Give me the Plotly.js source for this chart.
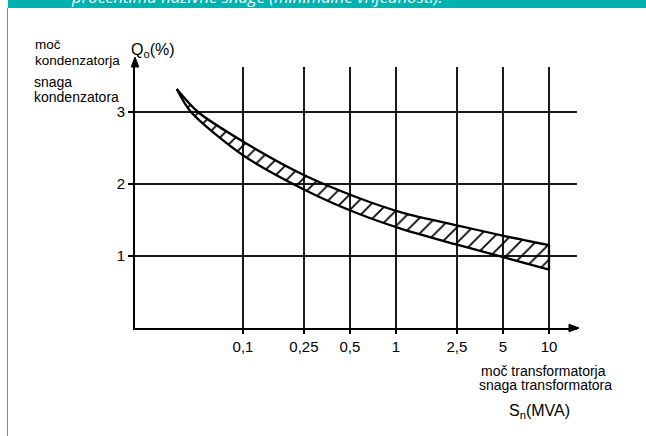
<!DOCTYPE html>
<html>
<head>
<meta charset="utf-8">
<script src="https://cdn.plot.ly/plotly-3.0.1.min.js"></script>
<style>
html,body{margin:0;padding:0;background:#fff;}
#chart{width:646px;height:436px;}
</style>
</head>
<body>
<div id="chart"></div>
<script>
// ---- data ----
const tickValues = [0.1, 0.25, 0.5, 1, 2.5, 5, 10];
const tickLabels = ["0,1", "0,25", "0,5", "1", "2,5", "5", "10"];
const yTickValues = [1, 2, 3];
const yTickLabels = ["1", "2", "3"];

// lower edge of the band (S_n in MVA, Q_o in %)
const lowerX = [0.0369, 0.0457, 0.1, 0.258, 0.548, 1.11, 2.58, 5.31, 10];
const lowerY = [3.32, 3.00, 2.40, 1.91, 1.60, 1.37, 1.15, 0.97, 0.81];
// upper edge of the band
const upperX = [0.0369, 0.0508, 0.1, 0.258, 0.548, 1.11, 2.58, 5.31, 10];
const upperY = [3.32, 3.00, 2.59, 2.11, 1.82, 1.60, 1.42, 1.27, 1.15];

const bannerText = "procentima nazivne snage (minimalne vrijednosti):";

// ---- layout helpers (pixel -> paper) ----
const W = 646, H = 436;
const L = 135, R = 577, T = 67, B = 328;
const px = p => (p - L) / (R - L);
const py = p => (B - p) / (B - T);

const FONT = "Liberation Sans, Arial, sans-serif";

const traces = [
  {
    x: lowerX, y: lowerY, type: "scatter", mode: "lines",
    line: {color: "#000", width: 2.3, shape: "spline", smoothing: 0.8},
    hoverinfo: "skip", showlegend: false
  },
  {
    x: upperX, y: upperY, type: "scatter", mode: "lines",
    line: {color: "#000", width: 2.3, shape: "spline", smoothing: 0.8},
    fill: "tonexty", fillcolor: "rgba(0,0,0,0)",
    fillpattern: {shape: "/", size: 11, solidity: 0.16, fgcolor: "#000", bgcolor: "rgba(0,0,0,0)"},
    hoverinfo: "skip", showlegend: false
  },
  {
    x: [lowerX[lowerX.length - 1], upperX[upperX.length - 1]],
    y: [lowerY[lowerY.length - 1], upperY[upperY.length - 1]],
    type: "scatter", mode: "lines",
    line: {color: "#000", width: 2.3},
    hoverinfo: "skip", showlegend: false
  }
];

const txt = (text, xPix, yPix, size, xanchor) => ({
  text: text, xref: "paper", yref: "paper", x: px(xPix), y: py(yPix),
  xanchor: xanchor || "left", yanchor: "middle", showarrow: false,
  font: {family: FONT, size: size, color: "#000"}
});

const tri = (pts) => "M" + pts.map(p => px(p[0]) + "," + py(p[1])).join(" L") + " Z";

const layout = {
  width: W, height: H,
  margin: {l: L, r: W - R, t: T, b: H - B, pad: 0},
  paper_bgcolor: "#fff", plot_bgcolor: "#fff",
  showlegend: false,
  xaxis: {
    type: "log",
    range: [-1 - (243 - L) / 153, 1 + (R - 549) / 153],
    tickmode: "array", tickvals: tickValues, ticktext: tickLabels,
    showgrid: true, gridcolor: "#1a1a1a", gridwidth: 1.5,
    zeroline: false, showline: true, linecolor: "#000", linewidth: 2,
    ticks: "outside", ticklen: 4, tickwidth: 1.5, tickcolor: "#000",
    tickfont: {family: FONT, size: 15, color: "#000"},
    fixedrange: true
  },
  yaxis: {
    range: [0, (B - T) / 72],
    tickmode: "array", tickvals: yTickValues, ticktext: yTickLabels,
    showgrid: true, gridcolor: "#1a1a1a", gridwidth: 1.5,
    zeroline: false, showline: true, linecolor: "#000", linewidth: 2,
    ticks: "outside", ticklen: 5, tickwidth: 1.5, tickcolor: "#000",
    tickfont: {family: FONT, size: 15, color: "#000"},
    fixedrange: true
  },
  shapes: [
    // teal banner
    {type: "rect", xref: "paper", yref: "paper", x0: px(8), x1: px(646), y0: py(8), y1: py(-2),
     fillcolor: "#00B2AF", line: {width: 0}, layer: "below"},
    // grey left rule
    {type: "line", xref: "paper", yref: "paper", x0: px(7.5), x1: px(7.5), y0: py(8), y1: py(437),
     line: {color: "#8a8a8a", width: 1}},
    // y-axis arrow
    {type: "line", xref: "paper", yref: "paper", x0: 0, x1: 0, y0: 1, y1: py(62),
     line: {color: "#000", width: 2}},
    {type: "path", xref: "paper", yref: "paper", path: tri([[135, 57], [131.2, 67], [138.8, 67]]),
     fillcolor: "#000", line: {color: "#000", width: 1}},
    // x-axis arrow
    {type: "path", xref: "paper", yref: "paper", path: tri([[579, 328], [569, 324.2], [569, 331.8]]),
     fillcolor: "#000", line: {color: "#000", width: 1}}
  ],
  annotations: [
    {text: "<i>" + bannerText + "</i>", xref: "paper", yref: "paper", x: px(257), y: py(10.5),
     xanchor: "center", yanchor: "bottom", showarrow: false,
     font: {family: "Open Sans, sans-serif", size: 16.7, color: "#fff"}},
    // y-axis labels
    txt("moč", 33, 45, 13.5),
    txt("kondenzatorja", 33, 60, 13.5),
    txt("snaga", 32, 82, 14),
    txt("kondenzatora", 32, 97, 14),
    txt("Q<sub>o</sub>(%)", 129, 51, 16),
    // x-axis labels
    txt("moč transformatorja", 479, 371, 14),
    txt("snaga transformatora", 477, 385, 14),
    txt("S<sub>n</sub>(MVA)", 507, 411, 16)
  ]
};

Plotly.newPlot("chart", traces, layout, {displayModeBar: false, staticPlot: true});
</script>
</body>
</html>
